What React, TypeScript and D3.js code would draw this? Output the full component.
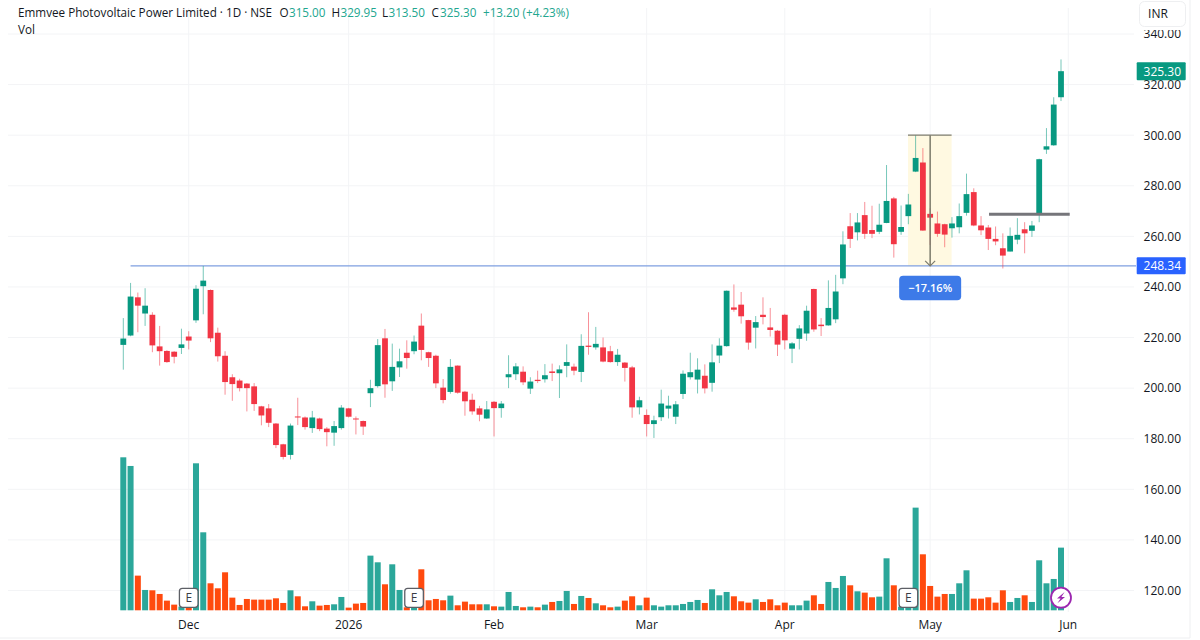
import * as d3 from "d3"
import { useEffect, useRef } from "react"

const opens = [
  217.1, 220.8, 235.9, 229.5, 229, 216.5, 214.7, 214.4, 215.9, 220.4,
  226.8, 240.3, 238.8, 221.9, 212.8, 204.3, 203, 201.8, 200.7, 192.8,
  192, 186, 177.8, 173.6, 188.8, 188.4, 184.2, 188, 184, 182.4,
  184.2, 192, 188, 187, 198, 200.8, 219.7, 202.7, 208.2, 214,
  214.6, 224.7, 214.2, 212.8, 200.2, 198.5, 208.9, 198.6, 195.4, 192,
  188, 194.6, 192.1, 204.3, 205.5, 206.5, 199.8, 203.3, 203.5, 206.6,
  205.9, 208.8, 208.5, 206.4, 216.8, 216.1, 216.1, 214.6, 210.3, 210.1,
  208.2, 192.4, 189.4, 185.8, 188.5, 191.9, 188.7, 197.7, 204.3, 203.4,
  204.9, 202.1, 212.9, 216.6, 231.9, 233, 226.9, 223.9, 229, 224,
  222.7, 229, 215.6, 219.5, 221.6, 239.2, 225.1, 224.8, 227.2, 243.4,
  264, 261.6, 268.4, 262.5, 261.8, 265.3, 275, 261.8, 268, 285.6,
  289.2, 268.9, 265.1, 264.8, 263.2, 263.6, 269.3, 277.5, 264.3, 263.5,
  259, 255.3, 254, 258.7, 262.8, 262.2, 268.5, 294.3, 296, 315,
]
const highs = [
  227.7, 241.6, 237.8, 239.5, 230, 224.6, 215, 214.6, 223.5, 222.5,
  240.7, 248.3, 239, 223.9, 214.6, 205.5, 203.7, 202, 202, 193,
  193.7, 186.2, 178, 186, 196.2, 188.8, 191, 188.3, 184.6, 187,
  193.3, 192.2, 188.8, 187.2, 203.3, 219.4, 223.4, 217.6, 215.6, 218.9,
  220.8, 229.5, 214.4, 213.2, 203.6, 211.5, 209, 198.9, 197.8, 193,
  194.9, 194.9, 194.9, 213, 209.9, 208.6, 204.3, 206.9, 209.5, 209.7,
  209, 217.3, 209.7, 221.3, 230, 224.2, 220, 216.7, 215.5, 210.3,
  208.8, 196.6, 191.6, 189.1, 199.4, 197, 194.9, 207, 214, 211.8,
  209.4, 217.3, 219.7, 238.6, 241, 238, 227, 228.5, 235.9, 231.7,
  223, 229.4, 218.2, 224.9, 232.6, 239.3, 227.7, 242.6, 244.8, 262,
  269.2, 269.2, 273.6, 272.1, 272.9, 288.2, 275.6, 272.2, 276.8, 300,
  294.9, 271.1, 269.8, 265, 267.6, 273, 284.8, 279, 268, 264.5,
  263.9, 261.2, 263.5, 267.2, 265.6, 266.1, 290.7, 302.8, 315, 329.95,
]
const lows = [
  207.3, 220.5, 222.1, 224.6, 214.2, 208.9, 210, 209.8, 213.5, 215.3,
  225.8, 229.2, 218.2, 210.5, 197.4, 195, 198.7, 190.8, 191, 185.3,
  184.6, 176.3, 171.8, 171.8, 185.4, 183.6, 182.3, 183, 177, 177.2,
  183.6, 188.4, 181.7, 181.5, 192.5, 200.2, 196.2, 198.9, 204.4, 207.7,
  213.4, 211, 208.4, 200, 194, 197.8, 197.8, 189.1, 189.5, 186.9,
  187.8, 180.9, 188.3, 200, 203.2, 201.2, 197.7, 202, 202.2, 202.8,
  196.1, 204.3, 205.1, 202.4, 213.2, 215.2, 210.2, 210.1, 208.8, 202.6,
  188.3, 189.6, 180.9, 180.3, 187, 188, 185.8, 195.7, 203.4, 197.9,
  197.9, 198.6, 209.9, 216.4, 230.2, 225.5, 215.2, 215.7, 225.2, 220.4,
  212.7, 215.3, 209.9, 215.3, 218.7, 222.3, 220.6, 224.7, 225.7, 241.1,
  255.4, 258.4, 259, 259.3, 260.9, 265.2, 251.6, 260.6, 264.8, 285.4,
  262.2, 256.6, 259.8, 255.7, 259.5, 261.2, 268.2, 264, 260.5, 254.6,
  256.5, 247.3, 254, 256.9, 253.3, 259.8, 265.6, 292.6, 295.8, 313.5,
]
const closes = [
  219.6, 236.2, 232.6, 232.6, 216.9, 214.6, 210.3, 212.4, 217.3, 218.8,
  239.3, 242.5, 219.7, 212.6, 202.4, 201.6, 200, 200, 193.7, 189.2,
  186.3, 177.5, 172.8, 185.2, 188.4, 184.6, 188.4, 183.8, 182.6, 185,
  192.3, 188.7, 187.8, 184.8, 200, 217, 201.5, 208.4, 210.6, 211.9,
  218.4, 215.1, 211.9, 201.9, 195.3, 208.4, 198.2, 194.8, 190.8, 189.5,
  191.6, 192.1, 193.9, 205.5, 208.6, 202.3, 202.6, 202.8, 205.1, 206,
  207.4, 210.3, 206.9, 216.7, 216.3, 217.5, 210.5, 210.3, 213.2, 208,
  192.4, 195.2, 185.8, 187.3, 193.9, 193.1, 193.6, 205.7, 206.3, 207.3,
  199.9, 210.2, 216.8, 238.5, 231, 228.4, 218, 226.1, 228.1, 223,
  217.2, 218.9, 217.7, 223.6, 230.6, 223.2, 224.5, 231.7, 238.2, 256.8,
  259, 265.5, 261, 261, 264.6, 274, 256.9, 263.7, 272.6, 291,
  262.3, 267.4, 261, 260.7, 265.1, 268, 276.7, 264.3, 262.4, 259,
  258, 252.4, 260.2, 260.6, 261.2, 264.3, 290.5, 295.6, 312.1, 325.3,
]
const volumes = [
  459, 433, 104, 61, 60, 49, 29, 17, 11, 11,
  441, 234, 81, 66, 114, 38, 16, 34, 32, 32,
  32, 36, 22, 60, 42, 12, 27, 14, 16, 18,
  40, 8, 20, 22, 164, 144, 78, 138, 61, 9,
  8, 123, 30, 34, 30, 44, 15, 26, 18, 18,
  18, 12, 11, 55, 13, 9, 11, 9, 17, 25,
  28, 58, 19, 43, 37, 21, 15, 9, 11, 29,
  42, 15, 38, 15, 11, 15, 15, 19, 25, 31,
  22, 63, 45, 55, 42, 27, 23, 33, 25, 33,
  15, 23, 15, 15, 29, 45, 19, 85, 67, 103,
  75, 57, 53, 39, 41, 156, 75, 11, 11, 308,
  168, 73, 41, 49, 49, 81, 120, 35, 35, 39,
  23, 60, 25, 37, 45, 25, 150, 81, 94, 188,
]
const priceTicks = [120, 140, 160, 180, 200, 220, 240, 260, 280, 300, 320, 340]
const monthLabels = ["Dec", "2026", "Feb", "Mar", "Apr", "May", "Jun"]
const monthBars = [9, 31, 51, 72, 91, 111, 130]
const earningsBars = [9, 40, 108]

const lastPrice = 325.3
const supportLevel = 248.34
const breakoutLevel = 268.7
const rangeTop = 300
const rangeStartBar = 107.95
const rangeEndBar = 113.95
const rangeMidBar = 111
const rangePct = "\u221217.16%"
const breakoutStartBar = 119.1
const breakoutEndBar = 130.2
const supportStartBar = 1

const headerParts = [
  { x: 18, text: "Emmvee Photovoltaic Power Limited \u00b7 1D \u00b7 NSE", up: false },
  { x: 279.5, text: "O", up: false },
  { x: 289, text: "315.00", up: true },
  { x: 331.5, text: "H", up: false },
  { x: 340.5, text: "329.95", up: true },
  { x: 382, text: "L", up: false },
  { x: 388.5, text: "313.50", up: true },
  { x: 431.5, text: "C", up: false },
  { x: 440, text: "325.30", up: true },
  { x: 483, text: "+13.20 (+4.23%)", up: true },
]

const FONT = "'Open Sans', 'Noto Sans', sans-serif"
const TEXT = "#131722"
const UP = "#089981"
const DOWN = "#f23645"
const VOL_UP = "#2ba79a"
const VOL_DOWN = "#ff4a0e"
const GRID = "#f3f4f6"
const BLUE = "#2962ff"

export default function App() {
  const svgRef = useRef<SVGSVGElement>(null)

  useEffect(() => {
    if (!svgRef.current) return
    const svg = d3.select(svgRef.current)
    svg.selectAll("*").remove()

    const x = d3.scaleLinear().domain([0, 129]).range([123.3, 1061])
    const y = d3.scaleLinear().domain([120, 340]).range([590.5, 34])
    const v = d3.scaleLinear().domain([0, 459]).range([610.3, 457.3])
    const bars = d3.range(opens.length)
    const isUp = (i: number) => closes[i] >= opens[i]

    // frame
    svg.append("line").attr("x1", 1190).attr("x2", 1190).attr("y1", 0).attr("y2", 638).attr("stroke", "#eeeff1")
    svg.append("line").attr("x1", 0).attr("x2", 1190).attr("y1", 638).attr("y2", 638).attr("stroke", "#eeeff1")

    // grid
    svg
      .append("g")
      .selectAll("line")
      .data(priceTicks)
      .join("line")
      .attr("x1", 8)
      .attr("x2", 1134)
      .attr("y1", (d) => y(d))
      .attr("y2", (d) => y(d))
      .attr("stroke", GRID)
    svg
      .append("g")
      .selectAll("line")
      .data(monthBars)
      .join("line")
      .attr("x1", (d) => x(d))
      .attr("x2", (d) => x(d))
      .attr("y1", 8)
      .attr("y2", 612)
      .attr("stroke", GRID)

    // volume
    svg
      .append("g")
      .selectAll("rect")
      .data(bars)
      .join("rect")
      .attr("x", (i) => x(i) - 3)
      .attr("y", (i) => v(volumes[i]))
      .attr("width", 6)
      .attr("height", (i) => v(0) - v(volumes[i]))
      .attr("fill", (i) => (isUp(i) ? VOL_UP : VOL_DOWN))

    // range measure shade goes under the candles
    svg
      .append("rect")
      .attr("x", x(rangeStartBar))
      .attr("y", y(rangeTop))
      .attr("width", x(rangeEndBar) - x(rangeStartBar))
      .attr("height", y(supportLevel) - y(rangeTop))
      .attr("fill", "#fff9e1")

    // support line
    svg
      .append("line")
      .attr("x1", x(supportStartBar))
      .attr("x2", 1136)
      .attr("y1", y(supportLevel))
      .attr("y2", y(supportLevel))
      .attr("stroke", "#7f9fe0")
      .attr("stroke-width", 1.4)

    // candles
    const candles = svg.append("g")
    candles
      .selectAll("line")
      .data(bars)
      .join("line")
      .attr("x1", (i) => x(i))
      .attr("x2", (i) => x(i))
      .attr("y1", (i) => y(highs[i]))
      .attr("y2", (i) => y(lows[i]))
      .attr("stroke", (i) => (isUp(i) ? UP : DOWN))
      .attr("stroke-opacity", 0.55)
      .attr("stroke-width", 1)
    candles
      .selectAll("rect")
      .data(bars)
      .join("rect")
      .attr("x", (i) => x(i) - 2.9)
      .attr("y", (i) => y(Math.max(opens[i], closes[i])))
      .attr("width", 5.8)
      .attr("height", (i) => Math.max(1, Math.abs(y(opens[i]) - y(closes[i]))))
      .attr("fill", (i) => (isUp(i) ? UP : DOWN))

    // range measure lines
    const rangeColor = "#7c7b6c"
    svg
      .append("line")
      .attr("x1", x(rangeStartBar))
      .attr("x2", x(rangeEndBar))
      .attr("y1", y(rangeTop))
      .attr("y2", y(rangeTop))
      .attr("stroke", rangeColor)
      .attr("stroke-width", 1.2)
    svg
      .append("line")
      .attr("x1", x(rangeMidBar))
      .attr("x2", x(rangeMidBar))
      .attr("y1", y(rangeTop))
      .attr("y2", y(supportLevel))
      .attr("stroke", rangeColor)
      .attr("stroke-width", 1.5)
    const arrowX = x(rangeMidBar)
    const arrowY = y(supportLevel)
    svg
      .append("path")
      .attr("d", `M${arrowX - 5},${arrowY - 5}L${arrowX},${arrowY}L${arrowX + 5},${arrowY - 5}`)
      .attr("fill", "none")
      .attr("stroke", rangeColor)
      .attr("stroke-width", 1.2)
    svg
      .append("rect")
      .attr("x", arrowX - 31)
      .attr("y", 275.7)
      .attr("width", 62)
      .attr("height", 24.5)
      .attr("rx", 4)
      .attr("fill", "#3d7ae8")
    svg
      .append("text")
      .attr("x", arrowX)
      .attr("y", 288)
      .attr("dy", "0.35em")
      .attr("text-anchor", "middle")
      .attr("font-size", 11)
      .attr("font-weight", 600)
      .attr("fill", "#fff")
      .text(rangePct)

    // breakout line
    svg
      .append("line")
      .attr("x1", x(breakoutStartBar))
      .attr("x2", x(breakoutEndBar))
      .attr("y1", y(breakoutLevel))
      .attr("y2", y(breakoutLevel))
      .attr("stroke", "#75757a")
      .attr("stroke-width", 3)

    // earnings badges
    const badges = svg.append("g").selectAll("g").data(earningsBars).join("g")
    badges
      .append("rect")
      .attr("x", (d) => x(d) - 9.3)
      .attr("y", 588.3)
      .attr("width", 18.6)
      .attr("height", 19)
      .attr("rx", 3)
      .attr("fill", "#fff")
      .attr("stroke", "#5d5f66")
      .attr("stroke-width", 1.3)
    badges
      .append("text")
      .attr("x", (d) => x(d))
      .attr("y", 598)
      .attr("dy", "0.36em")
      .attr("text-anchor", "middle")
      .attr("font-size", 12)
      .attr("fill", "#3a3d45")
      .text("E")

    // dividend/lightning marker on last bar
    const boltX = x(129)
    const boltY = 597.7
    svg
      .append("circle")
      .attr("cx", boltX)
      .attr("cy", boltY)
      .attr("r", 10)
      .attr("fill", "#fff")
      .attr("stroke", "#9c27b0")
      .attr("stroke-width", 1.8)
    svg
      .append("path")
      .attr(
        "d",
        `M${boltX + 3.6},${boltY - 5.6}L${boltX - 4},${boltY + 0.8}L${boltX - 0.4},${boltY + 0.8}L${boltX - 3.6},${boltY + 5.6}L${boltX + 4},${boltY - 0.8}L${boltX + 0.4},${boltY - 0.8}Z`,
      )
      .attr("fill", "#9c27b0")

    // price axis
    svg
      .append("g")
      .selectAll("text")
      .data(priceTicks)
      .join("text")
      .attr("x", 1181)
      .attr("y", (d) => y(d))
      .attr("dy", "0.36em")
      .attr("text-anchor", "end")
      .attr("font-size", 12)
      .attr("fill", TEXT)
      .text((d) => d.toFixed(2))

    // time axis
    svg
      .append("g")
      .selectAll("text")
      .data(monthBars)
      .join("text")
      .attr("x", (d) => x(d))
      .attr("y", 625)
      .attr("dy", "0.36em")
      .attr("text-anchor", "middle")
      .attr("font-size", 12)
      .attr("fill", TEXT)
      .text((_, i) => monthLabels[i])

    // price tags
    const tags = [
      { value: lastPrice, color: UP, h: 18 },
      { value: supportLevel, color: BLUE, h: 17 },
    ]
    tags.forEach((t) => {
      const cy = y(t.value)
      svg
        .append("rect")
        .attr("x", 1136.7)
        .attr("y", cy - t.h / 2)
        .attr("width", 49)
        .attr("height", t.h)
        .attr("rx", 1)
        .attr("fill", t.color)
      svg
        .append("text")
        .attr("x", 1181)
        .attr("y", cy)
        .attr("dy", "0.36em")
        .attr("text-anchor", "end")
        .attr("font-size", 12)
        .attr("font-weight", 500)
        .attr("fill", "#fff")
        .text(t.value.toFixed(2))
    })

    // currency button
    svg.append("rect").attr("x", 1137).attr("y", 0).attr("width", 52).attr("height", 30).attr("fill", "#fff")
    svg
      .append("rect")
      .attr("x", 1139.5)
      .attr("y", 1.5)
      .attr("width", 46)
      .attr("height", 25)
      .attr("rx", 5)
      .attr("fill", "#fff")
      .attr("stroke", "#eeeff1")
    svg
      .append("text")
      .attr("x", 1158)
      .attr("y", 14)
      .attr("dy", "0.36em")
      .attr("text-anchor", "middle")
      .attr("font-size", 12)
      .attr("fill", TEXT)
      .text("INR")

    // header
    svg
      .append("g")
      .selectAll("text")
      .data(headerParts)
      .join("text")
      .attr("x", (d) => d.x)
      .attr("y", 12.7)
      .attr("dy", "0.36em")
      .attr("font-size", 11.7)
      .attr("fill", (d) => (d.up ? "#22a68f" : TEXT))
      .text((d) => d.text)
    svg
      .append("text")
      .attr("x", 18)
      .attr("y", 30)
      .attr("dy", "0.36em")
      .attr("font-size", 11.7)
      .attr("fill", TEXT)
      .text("Vol")
  }, [])

  return (
    <svg
      ref={svgRef}
      width={1200}
      height={640}
      fontFamily={FONT}
      style={{ position: "absolute", left: 0, top: 0, display: "block", background: "#fff" }}
    />
  )
}
